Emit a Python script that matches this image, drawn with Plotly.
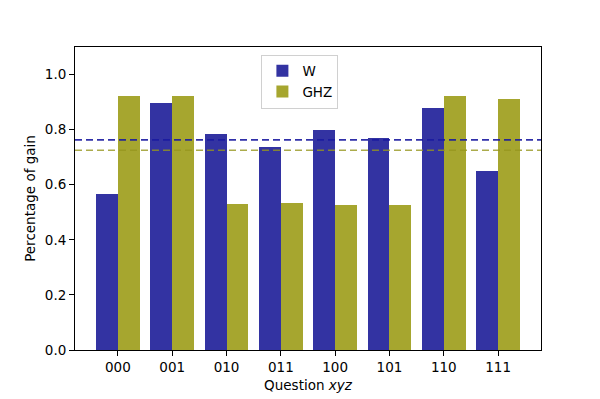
import plotly.graph_objects as go

# Data
questions = ["000", "001", "010", "011", "100", "101", "110", "111"]
w_gain = [0.567, 0.898, 0.785, 0.737, 0.799, 0.770, 0.880, 0.650]
ghz_gain = [0.923, 0.923, 0.529, 0.534, 0.527, 0.527, 0.923, 0.912]
w_mean = 0.763
ghz_mean = 0.725

W_COLOR = "rgba(0, 0, 139, 0.8)"
GHZ_COLOR = "rgba(150, 150, 10, 0.85)"
FONT = "DejaVu Sans"

x_pos = list(range(len(questions)))

fig = go.Figure()
fig.add_trace(go.Bar(
    x=[p - 0.2 for p in x_pos], y=w_gain, width=0.4, name="W",
    marker=dict(color=W_COLOR, line=dict(width=0)),
))
fig.add_trace(go.Bar(
    x=[p + 0.2 for p in x_pos], y=ghz_gain, width=0.4, name="GHZ",
    marker=dict(color=GHZ_COLOR, line=dict(width=0)),
))

# mean lines
fig.add_hline(y=w_mean, line=dict(color="rgba(25, 25, 160, 0.9)", width=1.6, dash="7px,4px"))
fig.add_hline(y=ghz_mean, line=dict(color="rgba(150, 150, 30, 0.8)", width=1.6, dash="7px,4px"))

axis_common = dict(
    showline=True, linecolor="black", linewidth=1, mirror=True,
    ticks="outside", ticklen=5, tickcolor="black", showgrid=False,
    zeroline=False, tickfont=dict(family=FONT, size=13.5, color="black"),
)

# page body adds an 8px offset, so margins are shifted to compensate
fig.update_layout(
    width=600, height=399,
    margin=dict(l=67, r=67, t=39, b=57),
    paper_bgcolor="white", plot_bgcolor="white",
    barmode="overlay", bargap=0,
    font=dict(family=FONT, size=13.5, color="black"),
    showlegend=True,
    legend=dict(
        x=0.40, y=0.975, xanchor="left", yanchor="top",
        bordercolor="#d0d0d0", borderwidth=1, bgcolor="rgba(255,255,255,0.8)",
        font=dict(family=FONT, size=13.5),
    ),
    xaxis=dict(
        **axis_common, range=[-0.79, 7.79],
        tickmode="array", tickvals=x_pos, ticktext=questions,
        title=dict(text="Question <i>xyz</i>", font=dict(family=FONT, size=13.5), standoff=6),
    ),
    yaxis=dict(
        **axis_common, range=[0, 1.1],
        tickmode="array", tickvals=[0, 0.2, 0.4, 0.6, 0.8, 1.0],
        ticktext=["0.0", "0.2", "0.4", "0.6", "0.8", "1.0"],
        title=dict(text="Percentage of gain", font=dict(family=FONT, size=13.5), standoff=6),
    ),
)

fig.write_html("out.html")
